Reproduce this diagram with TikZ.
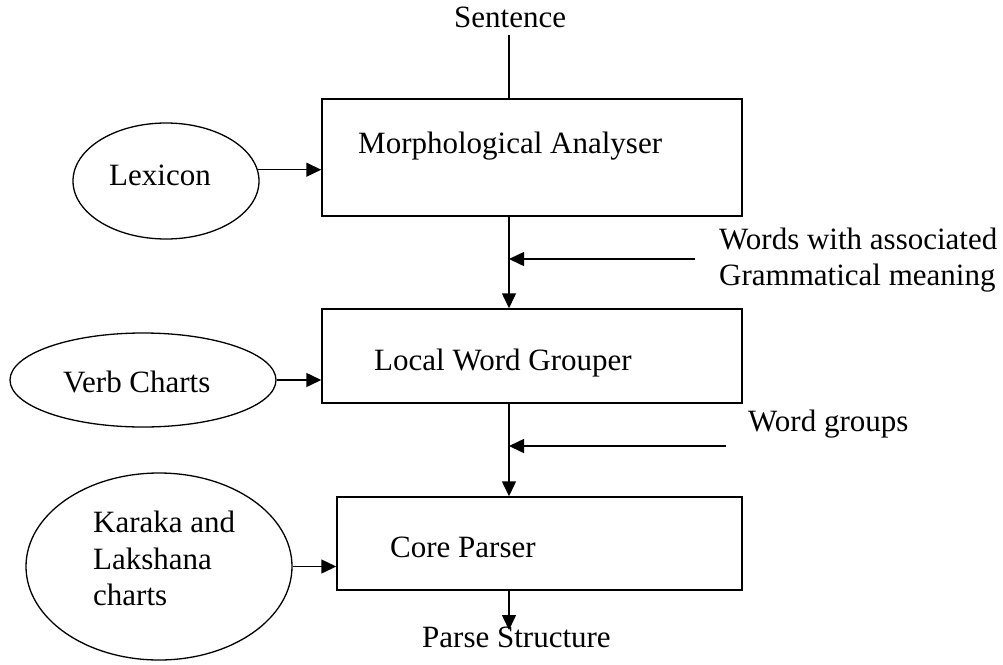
\documentclass[tikz,border=0pt]{standalone}
\usepackage{fontspec}
\setmainfont{Liberation Serif}
\usetikzlibrary{arrows.meta,positioning,shapes.geometric,calc}

\begin{document}
\begin{tikzpicture}[x=1pt, y=-1pt,
  stage/.style={draw, line width=1.5pt, minimum width=420pt, minimum height=94pt, inner sep=0pt},
  store/.style={draw, ellipse, line width=1.3pt, inner sep=0pt},
  lbl/.style={font=\fontsize{31}{36.5}\selectfont, inner sep=0pt, anchor=base west},
  note/.style={font=\fontsize{31}{36.5}\selectfont, inner sep=0pt, anchor=west, align=left},
  wire/.style={line width=1.5pt},
  flow/.style={-{Triangle[length=15pt, width=14pt]}, line width=1.5pt}]
\useasboundingbox (0,0) rectangle (1003,664);

% processing stages
\node[stage, minimum height=117pt] (ma) at (532,157.5) {};
\node[stage] (lwg) at (532,356) {};
\node[stage, minimum width=405pt, minimum height=93pt] (cp) at (539.5,543.5) {};
\node[lbl] (matext) at (358,153) {Morphological Analyser};
\node[lbl] (lwgtext) at (374,370) {Local Word Grouper};
\node[lbl] (cptext) at (390,557) {Core Parser};

% knowledge sources
\node[store, minimum width=186pt, minimum height=116pt] (lex) at (166,181) {};
\node[store, minimum width=266pt, minimum height=94pt] (verb) at (143,380) {};
\node[store, minimum width=266pt, minimum height=187pt] (kar) at (159,566.5) {};
\node[lbl] (lextext) at (109,185) {Lexicon};
\node[lbl] (verbtext) at (63,392) {Verb Charts};
\node[note] (kartext) at (93,558.5) {Karaka and\\Lakshana\\charts};

% input and output
\node[lbl] (sent) at (454,27) {Sentence};
\node[lbl] (parse) at (422,647) {Parse Structure};
\coordinate (axis) at (509,35);
\coordinate (out) at (509,630);

% intermediate results
\node[note] (wmtext) at (719,260) {Words with associated\\Grammatical meaning};
\node[lbl] (wgtext) at (748,431) {Word groups};
\coordinate (wm) at (695,259);
\coordinate (wg) at (726,446);

\draw[wire] (axis) -- (axis |- ma.north);
\draw[flow] (axis |- ma.south) -- (axis |- lwg.north);
\draw[flow] (axis |- lwg.south) -- (axis |- cp.north);
\draw[flow] (axis |- cp.south) -- (out);
\draw[flow] (wm) -- (wm -| axis);
\draw[flow] (wg) -- (wg -| axis);
\draw[flow] (lex.7) -- (lex.7 -| ma.west);
\draw[flow] (verb.east) -- (verb.east -| lwg.west);
\draw[flow] (kar.east) -- (kar.east -| cp.west);
\end{tikzpicture}
\end{document}
